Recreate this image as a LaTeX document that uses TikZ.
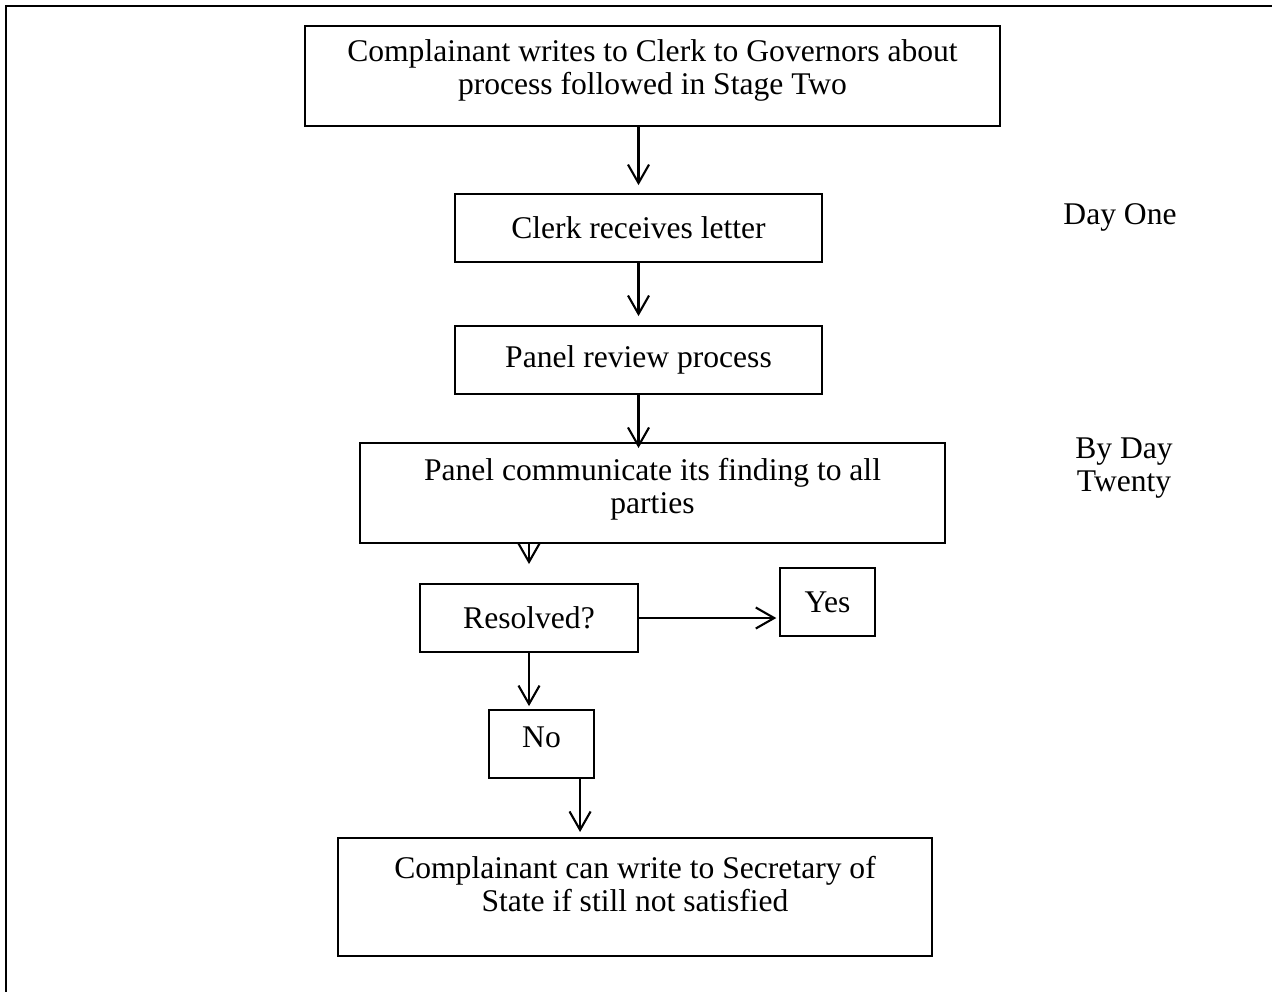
\documentclass[tikz,border=0pt]{standalone}
\usepackage{fontspec}
\setmainfont{Liberation Serif}
\usetikzlibrary{arrows.meta,calc}

\begin{document}
\begin{tikzpicture}[x=0.38pt, y=-0.38pt, line width=0.8pt,
		>={Straight Barb[length=7pt,width=8pt]},
		box/.style={draw, rectangle, align=center, inner sep=0pt, font=\fontsize{12pt}{12.5pt}\selectfont},
		side/.style={align=center, font=\fontsize{12pt}{12.5pt}\selectfont}]
		\useasboundingbox (0, 0) rectangle (1272, 992);
		\draw [line width=1pt] (1272, 6) to (6, 6) to (6, 992);

		\node [box, minimum width=264pt, minimum height=38pt, text depth=6.8pt] (0) at (652.5, 76) {Complainant writes to Clerk to Governors about\\process followed in Stage Two};
		\node [box, minimum width=139.5pt, minimum height=25.8pt] (1) at (638.5, 228) {Clerk receives letter};
		\node [box, minimum width=139.5pt, minimum height=25.8pt] (2) at (638.5, 360) {Panel review process};
		\node [box, minimum width=222.3pt, minimum height=38pt, text depth=5.6pt] (3) at (652.5, 493) {Panel communicate its finding to all\\parties};
		\node [box, minimum width=82.8pt, minimum height=25.8pt] (4) at (529, 618) {Resolved?};
		\node [box, minimum width=36.1pt, minimum height=25.8pt] (5) at (827.5, 602) {Yes};
		\node [box, minimum width=39.9pt, minimum height=25.8pt, text depth=5.4pt] (6) at (541.5, 744) {No};
		\node [box, minimum width=225.7pt, minimum height=44.8pt, text depth=10.2pt] (7) at (635, 897) {Complainant can write to Secretary of\\State if still not satisfied};
		\coordinate (8) at ($(6.south west)!0.86!(6.south east)$);

		\node [side] (9) at (1120, 217) {Day One};
		\node [side] (10) at (1124, 468) {By Day\\Twenty};

		\draw [->, shorten >=3pt] (0.south -| 1.north) to (1.north);
		\draw [->, shorten >=3.4pt] (1.south) to (2.north);
		\draw [->, shorten >=-2.3pt] (2.south) to (2.south |- 3.north);
		\draw [->, shorten >=7.2pt] (3.south -| 4.north) to (4.north);
		\draw [->, shorten >=1pt] (4.east) to (4.east -| 5.west);
		\draw [->, shorten >=1.1pt] (4.south) to (4.south |- 6.north);
		\draw [->, shorten >=1.9pt] (8) to (8 |- 7.north);
\end{tikzpicture}
\end{document}
